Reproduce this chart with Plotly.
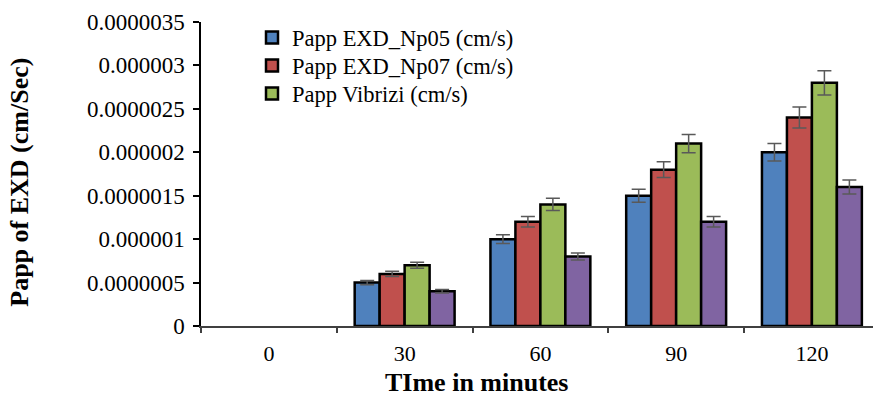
import plotly.graph_objects as go

# Sampling times (minutes) and apparent permeability values (cm/s);
# nothing has permeated at t = 0, so no bar is drawn there
time_labels = ["0", "30", "60", "90", "120"]

papp_np05 = [None, 5.0e-7, 1.0e-6, 1.5e-6, 2.0e-6]
papp_np07 = [None, 6.0e-7, 1.2e-6, 1.8e-6, 2.4e-6]
papp_vibrizi = [None, 7.0e-7, 1.4e-6, 2.1e-6, 2.8e-6]
papp_fourth = [None, 4.0e-7, 8.0e-7, 1.2e-6, 1.6e-6]

err_np05 = [None, 2.5e-8, 5.0e-8, 7.5e-8, 1.0e-7]
err_np07 = [None, 3.0e-8, 6.0e-8, 9.0e-8, 1.2e-7]
err_vibrizi = [None, 3.5e-8, 7.0e-8, 1.05e-7, 1.4e-7]
err_fourth = [None, 2.0e-8, 4.0e-8, 6.0e-8, 8.0e-8]

y_tick_values = [0, 5e-7, 1e-6, 1.5e-6, 2e-6, 2.5e-6, 3e-6, 3.5e-6]
y_tick_labels = ["0", "0.0000005", "0.000001", "0.0000015", "0.000002",
                 "0.0000025", "0.000003", "0.0000035"]

# (name, values, errors, colour, legend id or None when hidden)
series = [
    ("Papp EXD_Np05 (cm/s)", papp_np05, err_np05, "#4F81BD", "legend"),
    ("Papp EXD_Np07 (cm/s)", papp_np07, err_np07, "#C0504D", "legend2"),
    ("Papp Vibrizi (cm/s)", papp_vibrizi, err_vibrizi, "#9BBB59", "legend3"),
    ("Papp (cm/s)", papp_fourth, err_fourth, "#8064A2", None),
]

SERIF = "Liberation Serif"

# plot area in pixels, used to place the legend rows and axis titles
PLOT_L, PLOT_W = 201, 672
PLOT_T, PLOT_B = 22, 326.5
PLOT_H = PLOT_B - PLOT_T


def px_to_paper_y(p):
    return (PLOT_B - p) / PLOT_H


def px_to_paper_x(p):
    return (p - PLOT_L) / PLOT_W


fig = go.Figure()
for name, vals, errs, color, leg in series:
    fig.add_trace(go.Bar(
        x=time_labels,
        y=vals,
        name=name,
        showlegend=leg is not None,
        legend=leg or "legend",
        marker=dict(color=color, line=dict(color="black", width=2.5)),
        error_y=dict(type="data", array=errs, visible=True,
                     color="#595959", thickness=1.5, width=7),
    ))

legend_rows = {"legend": 38, "legend2": 66, "legend3": 94}
legend_layout = {}
for key, row_y in legend_rows.items():
    legend_layout[key] = dict(
        x=px_to_paper_x(252), y=px_to_paper_y(row_y),
        xanchor="left", yanchor="middle",
        font=dict(family=SERIF, size=22.5, color="black"),
        bgcolor="rgba(0,0,0,0)",
        itemwidth=30,
    )

fig.update_layout(
    width=873,
    height=396,
    margin=dict(l=PLOT_L, r=0, t=PLOT_T, b=396 - PLOT_B),
    paper_bgcolor="white",
    plot_bgcolor="white",
    barmode="group",
    bargap=0.264,
    bargroupgap=0,
    font=dict(family=SERIF, color="black", size=22),
    showlegend=True,
    **legend_layout,
)

fig.update_xaxes(
    type="category",
    range=[-0.5, 4.45],
    layer="above traces",
    showline=True, linecolor="#404040", linewidth=2,
    ticks="outside", tickson="boundaries", ticklen=5, tickcolor="#404040",
    tickwidth=1.5,
    ticklabelstandoff=7,
    tickfont=dict(family=SERIF, size=22, color="black"),
    showgrid=False, zeroline=False,
)

fig.update_yaxes(
    range=[0, 3.5e-6],
    tickvals=y_tick_values,
    ticktext=y_tick_labels,
    showline=True, linecolor="black", linewidth=1.5,
    ticks="outside", ticklen=6, tickcolor="black", tickwidth=1.5,
    ticklabelstandoff=4,
    tickfont=dict(family=SERIF, size=23, color="black"),
    showgrid=False, zeroline=False,
)

fig.add_annotation(
    text="<b>Papp of EXD (cm/Sec)</b>",
    xref="paper", yref="paper",
    x=px_to_paper_x(20), y=px_to_paper_y(183),
    xanchor="center", yanchor="middle",
    textangle=-90, showarrow=False,
    font=dict(family=SERIF, size=26, color="black"),
)

fig.add_annotation(
    text="<b>TIme in minutes</b>",
    xref="paper", yref="paper",
    x=px_to_paper_x(476), y=px_to_paper_y(383),
    xanchor="center", yanchor="middle",
    showarrow=False,
    font=dict(family=SERIF, size=26, color="black"),
)

fig.write_html("out.html")
